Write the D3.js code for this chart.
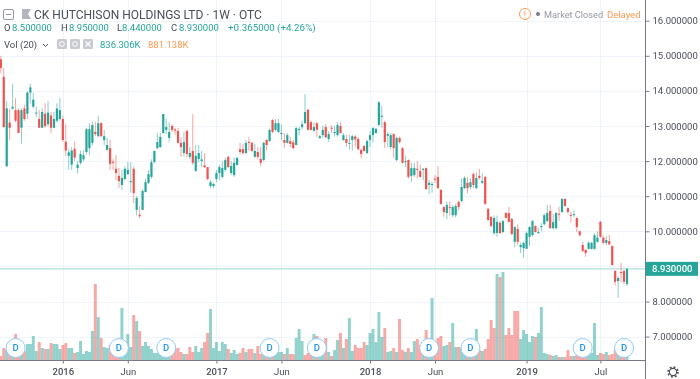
<!DOCTYPE html>
<html>
  <head>
    <title>CK Hutchison Holdings weekly candles</title>
    <script src="https://d3js.org/d3.v7.min.js"></script>
    <style>
      html, body { margin: 0; padding: 0; background: #fff; }
      svg { display: block; filter: blur(0.35px); }
      text { font-family: Roboto, "Open Sans", sans-serif; }
    </style>
  </head>
  <body>
    <div id="chart"></div>
    <script>
      // weekly bars, oldest first
      var opens = [
        14.9,14.4,11.85,13.1,13.5,13.45,13.45,12.95,13.5,13.35,
        13.95,13.55,13.35,13.2,12.95,13.35,13.05,13.3,12.95,13.15,
        13.2,13.2,12.55,12.15,11.9,12.35,11.8,11.95,12.05,12.26,
        12.37,12.52,12.83,12.71,13.08,12.6,12.32,12.37,11.98,11.78,
        11.58,11.32,11.49,11.63,11.4,11.78,10.61,10.47,10.61,11.12,
        11.38,11.55,11.97,12.37,12.4,12.8,12.89,12.66,13.0,12.9,
        12.86,12.52,12.23,12.86,12.12,12.29,11.72,12.06,12.0,11.88,
        11.83,11.29,11.29,11.49,11.66,11.55,11.75,12.12,11.66,11.6,
        11.89,12.34,12.34,12.23,12.55,12.52,12.12,12.26,12.06,12.03,
        12.6,12.57,13.17,12.89,12.83,12.77,12.6,12.52,12.57,12.54,
        12.46,12.89,12.97,13.08,13.46,13.11,12.86,13.08,12.66,12.74,
        12.97,12.63,12.95,12.8,12.74,13.0,12.6,12.63,12.49,12.6,
        12.7,12.63,12.32,12.43,12.23,12.6,12.74,12.8,13.03,13.26,
        13.11,12.72,12.4,12.77,12.03,12.66,12.37,11.97,12.03,11.58,
        11.6,11.78,11.72,11.75,11.8,11.32,11.32,11.5,11.55,11.18,
        10.69,10.52,10.69,10.46,10.46,10.84,10.86,11.23,11.38,11.26,
        11.63,11.23,11.58,11.38,11.55,10.64,10.41,9.95,9.95,10.24,
        9.98,10.52,10.52,10.35,9.7,10.07,9.55,9.52,9.5,9.84,
        9.89,10.15,9.95,10.12,10.2,10.29,10.58,10.09,10.09,10.5,
        10.55,10.92,10.66,10.47,10.46,10.38,10.0,9.61,9.47,9.5,
        9.5,9.5,9.7,10.27,9.82,9.67,9.72,9.58,8.87,8.58,
        8.84,8.87,8.5
      ];
      var highs = [
        15.0,14.65,13.7,13.5,14.2,13.8,13.5,13.5,13.6,14.0,
        14.2,13.95,13.55,13.45,13.5,13.65,13.7,13.4,13.4,13.65,
        13.8,13.3,13.05,12.35,12.4,12.55,12.0,12.3,12.3,12.95,
        13.08,13.12,13.12,13.28,13.12,12.89,12.66,12.6,12.06,12.17,
        11.8,11.75,11.85,11.97,11.97,11.85,11.0,10.72,11.2,11.5,
        11.75,12.05,12.3,12.8,12.8,13.34,13.2,13.11,13.05,12.95,
        12.95,12.68,12.83,12.9,12.4,13.34,12.46,12.46,12.29,12.23,
        11.83,11.46,11.38,11.75,11.9,12.0,12.1,12.15,12.0,12.1,
        12.12,12.52,12.5,12.6,12.68,12.55,12.5,12.4,12.4,12.55,
        12.62,12.92,13.2,13.2,13.2,13.03,12.8,12.8,12.7,12.6,
        12.97,12.97,13.15,13.91,13.5,13.15,13.1,13.12,12.75,13.0,
        13.05,12.85,13.03,13.0,13.11,13.11,12.8,12.75,12.75,12.75,
        12.75,12.68,12.34,12.46,12.6,12.85,12.97,12.95,13.7,13.57,
        13.15,12.83,12.8,12.8,12.7,12.7,12.4,12.15,12.05,11.95,
        11.95,12.0,11.9,11.8,11.82,11.46,11.4,11.6,11.85,11.2,
        10.72,10.85,10.85,10.75,10.78,10.87,11.5,11.57,11.55,11.52,
        11.68,11.68,11.78,11.65,11.57,10.66,10.43,10.45,10.45,10.3,
        10.32,10.55,10.7,10.38,10.15,10.2,9.68,9.7,10.0,10.15,
        10.32,10.17,10.1,10.24,10.5,10.75,10.75,10.5,10.55,10.7,
        10.95,10.95,10.68,10.55,10.6,10.4,10.02,9.7,9.5,9.72,
        9.7,9.95,10.0,10.3,9.88,9.87,9.9,9.6,8.9,8.72,
        9.1,8.9,8.95
      ];
      var lows = [
        14.5,12.95,11.85,12.6,13.45,13.1,12.8,12.5,13.15,13.2,
        13.65,13.5,13.25,12.95,12.95,12.95,13.0,12.8,12.95,13.1,
        13.15,12.55,12.15,11.75,11.75,12.0,11.65,11.9,12.0,12.2,
        12.17,12.45,12.71,12.68,12.68,12.45,12.3,11.75,11.75,11.46,
        11.23,11.18,11.45,11.6,11.1,10.8,10.45,10.38,10.6,11.1,
        11.35,11.5,11.95,12.35,12.37,12.78,12.77,12.54,12.83,12.75,
        12.5,12.12,12.12,12.1,12.05,11.89,11.7,11.98,11.83,11.8,
        11.45,11.23,11.23,11.4,11.45,11.5,11.7,11.8,11.6,11.55,
        11.87,12.2,12.18,12.2,12.3,12.25,12.1,12.05,11.85,12.0,
        12.3,12.55,12.8,12.85,12.8,12.6,12.37,12.5,12.4,12.33,
        12.45,12.74,12.9,13.05,12.87,12.87,12.84,12.68,12.63,12.66,
        12.65,12.55,12.8,12.7,12.7,12.78,12.58,12.4,12.32,12.3,
        12.4,12.3,12.08,12.26,12.2,12.4,12.52,12.78,13.0,12.95,
        12.37,12.4,12.35,12.09,12.0,12.5,11.93,11.83,11.5,11.4,
        11.55,11.5,11.53,11.45,11.18,11.06,11.1,11.38,11.2,10.75,
        10.41,10.35,10.45,10.4,10.4,10.6,10.83,11.2,11.09,11.2,
        11.23,11.2,11.47,11.35,10.75,10.3,10.12,9.89,9.84,9.93,
        9.95,10.36,10.24,9.9,9.55,9.6,9.38,9.24,9.58,9.58,
        9.86,9.96,9.92,10.0,10.17,10.26,10.07,10.05,10.05,10.3,
        10.52,10.7,10.5,10.25,10.4,9.98,9.85,9.4,9.27,9.48,
        9.48,9.48,9.68,9.82,9.62,9.6,9.6,9.02,8.46,8.1,
        8.55,8.5,8.44
      ];
      var closes = [
        14.65,12.97,13.5,12.95,13.55,13.15,12.8,13.45,13.2,13.95,
        14.1,13.75,13.38,12.95,13.4,13.0,13.38,12.95,13.2,13.5,
        13.45,12.6,12.3,12.25,12.3,12.1,11.9,12.2,12.17,12.91,
        12.91,13.03,12.77,13.08,12.71,12.71,12.46,11.92,11.95,11.66,
        11.43,11.52,11.78,11.75,11.43,11.09,10.95,10.43,11.15,11.4,
        11.63,11.97,12.29,12.54,12.69,13.34,12.97,12.83,12.89,12.87,
        12.52,12.4,12.54,12.2,12.23,11.95,12.15,12.23,12.05,11.83,
        11.49,11.4,11.35,11.66,11.83,11.8,12.03,11.83,11.86,11.95,
        12.09,12.26,12.23,12.52,12.52,12.29,12.29,12.12,11.95,12.52,
        12.46,12.89,12.83,13.08,13.08,12.8,12.52,12.74,12.49,12.37,
        12.94,12.92,13.05,13.4,12.89,12.89,12.97,12.89,12.71,12.89,
        12.68,12.77,12.92,12.83,13.03,12.8,12.74,12.52,12.52,12.71,
        12.62,12.34,12.2,12.29,12.57,12.74,12.94,12.92,13.68,13.29,
        12.54,12.77,12.74,12.37,12.66,12.54,11.95,12.0,11.55,11.8,
        11.8,11.75,11.55,11.78,11.2,11.38,11.35,11.47,11.23,10.78,
        10.55,10.75,10.66,10.69,10.72,10.69,11.26,11.52,11.23,11.4,
        11.32,11.52,11.52,11.43,10.78,10.32,10.15,10.38,10.27,9.95,
        10.29,10.38,10.27,9.92,10.12,9.7,9.61,9.67,9.95,10.12,
        10.29,9.98,9.98,10.15,10.46,10.52,10.09,10.26,10.52,10.47,
        10.92,10.72,10.55,10.44,10.49,10.12,9.89,9.44,9.38,9.67,
        9.67,9.89,9.82,9.84,9.67,9.75,9.63,9.04,8.56,8.67,
        8.81,8.56,8.93
      ];
      // hundred thousand shares
      var volumes = [
        8,24,20,24,30,52,32,20,18,32,
        32,48,18,36,24,22,22,34,32,32,
        22,30,34,24,24,14,16,38,12,18,
        16,58,152,86,44,26,24,30,24,20,
        16,104,30,52,26,90,78,58,28,36,
        28,22,14,14,16,20,18,14,16,24,
        24,16,12,12,26,16,28,16,24,36,
        54,102,24,36,18,36,32,22,14,20,
        12,14,24,16,22,22,14,28,12,16,
        16,16,18,18,16,16,12,24,12,12,
        44,62,38,10,14,16,52,48,36,36,
        44,16,8,20,40,54,24,42,84,18,
        30,24,24,36,30,54,62,36,96,46,
        64,16,18,24,16,82,20,16,24,16,
        38,42,30,24,60,30,124,14,44,48,
        28,30,36,74,26,26,24,28,28,28,
        28,62,20,18,22,42,80,64,172,166,
        176,50,64,50,98,98,42,60,52,36,
        48,46,54,106,14,12,10,8,10,6,
        6,6,20,8,8,10,16,16,10,12,
        14,74,10,14,12,16,10,12,20,12,
        10,6,8
      ];
      // weeks whose volume bar is coloured against the candle
      var volumeFlips = [64, 103, 150, 167, 174];
      var dividendWeeks = [5, 40, 56, 91, 107, 145, 159, 197, 211];

      var priceTicks = [7, 8, 9, 10, 11, 12, 13, 14, 15, 16];
      var timeTicks = [21, 43, 73, 95, 125, 147, 178, 203];
      var timeLabels = ["2016", "Jun", "2017", "Jun", "2018", "Jun", "2019", "Jul"];
      var lastPrice = 8.93;

      var width = 700, height = 379;
      var plotRight = 645, plotBottom = 360;
      var up = "#26a69a", down = "#ef5350", gridColor = "#eef4f9", axisColor = "#787b86", textColor = "#4a4e5a";

      var svg = d3.select("#chart").append("svg")
        .attr("width", width)
        .attr("height", height);

      var x = d3.scaleLinear().domain([0, opens.length - 1]).range([0.8, 627]);
      var y = d3.scaleLinear().domain([7, 16]).range([336.6, 20.7]);
      var yVol = d3.scaleLinear().domain([0, 176]).range([plotBottom, 272]);

      // grid
      svg.append("g").selectAll("line").data(priceTicks).enter().append("line")
        .attr("x1", 0).attr("x2", plotRight)
        .attr("y1", function(d) { return Math.round(y(d)) + 0.5; })
        .attr("y2", function(d) { return Math.round(y(d)) + 0.5; })
        .attr("stroke", gridColor);
      svg.append("g").selectAll("line").data(timeTicks).enter().append("line")
        .attr("y1", 0).attr("y2", plotBottom)
        .attr("x1", function(d) { return Math.round(x(d)) + 0.5; })
        .attr("x2", function(d) { return Math.round(x(d)) + 0.5; })
        .attr("stroke", gridColor);

      // volume
      svg.append("g").selectAll("rect").data(volumes).enter().append("rect")
        .attr("x", function(d, i) { return x(i) - 1.48; })
        .attr("width", 2.96)
        .attr("y", function(d) { return yVol(d); })
        .attr("height", function(d) { return plotBottom - yVol(d); })
        .attr("fill", function(d, i) {
          var rising = closes[i] >= opens[i];
          if (volumeFlips.indexOf(i) >= 0) rising = !rising;
          return rising ? up : down;
        })
        .attr("opacity", 0.5);

      // last price line
      svg.append("line")
        .attr("x1", 0).attr("x2", plotRight)
        .attr("y1", y(lastPrice)).attr("y2", y(lastPrice))
        .attr("stroke", up).attr("stroke-opacity", 0.45);

      // candles
      var candles = svg.append("g").selectAll("g").data(opens).enter().append("g")
        .attr("fill", function(d, i) { return closes[i] >= d ? up : down; })
        .attr("stroke", function(d, i) { return closes[i] >= d ? up : down; });
      candles.append("line")
        .attr("x1", function(d, i) { return x(i); })
        .attr("x2", function(d, i) { return x(i); })
        .attr("y1", function(d, i) { return y(highs[i]); })
        .attr("y2", function(d, i) { return y(lows[i]); })
        .attr("stroke-opacity", 0.55);
      candles.append("rect")
        .attr("x", function(d, i) { return x(i) - 1.1; })
        .attr("width", 2.2)
        .attr("y", function(d, i) { return y(Math.max(d, closes[i])); })
        .attr("height", function(d, i) { return Math.max(1, Math.abs(y(d) - y(closes[i]))); })
        .attr("stroke", "none");

      // dividend markers
      var marks = svg.append("g").selectAll("g").data(dividendWeeks).enter().append("g")
        .attr("transform", function(d) { return "translate(" + x(d) + ",348)"; });
      marks.append("circle").attr("r", 9.5).attr("fill", "#fff").attr("stroke", "#90caf9");
      marks.append("text").text("D")
        .attr("text-anchor", "middle").attr("dy", "0.35em")
        .attr("font-size", "9.5px").attr("font-weight", 500).attr("fill", "#2196f3");

      // axes
      var yAxis = svg.append("g")
        .attr("transform", "translate(" + (plotRight + 0.5) + ",0)")
        .call(d3.axisRight(y).tickValues(priceTicks).tickSize(4).tickPadding(3)
          .tickFormat(function(d) { return d.toFixed(6); }));
      yAxis.select(".domain").remove();
      yAxis.selectAll("line").attr("stroke", axisColor);
      yAxis.selectAll("text").attr("font-size", "9.5px").attr("fill", textColor)
        .style("font-family", "Roboto");
      // 9.000000 sits under the last price tag
      yAxis.selectAll("text").filter(function(d) { return d === 9; }).remove();

      var xAxis = svg.append("g")
        .attr("transform", "translate(0," + (plotBottom + 0.5) + ")")
        .call(d3.axisBottom(x).tickValues(timeTicks).tickSize(3).tickPadding(5)
          .tickFormat(function(d, i) { return timeLabels[i]; }));
      xAxis.select(".domain").remove();
      xAxis.selectAll("line").attr("stroke", axisColor);
      xAxis.selectAll("text").attr("font-size", "9.5px").attr("fill", textColor)
        .attr("font-weight", function(d, i) { return i % 2 ? 400 : 500; })
        .style("font-family", "Roboto");

      svg.append("line").attr("x1", plotRight + 0.5).attr("x2", plotRight + 0.5)
        .attr("y1", 0).attr("y2", height).attr("stroke", axisColor);
      svg.append("line").attr("x1", 0).attr("x2", plotRight)
        .attr("y1", plotBottom + 0.5).attr("y2", plotBottom + 0.5).attr("stroke", axisColor);

      // last price tag
      svg.append("rect").attr("x", 646).attr("y", y(lastPrice) - 7).attr("width", 52).attr("height", 14).attr("fill", up);
      svg.append("text").text(lastPrice.toFixed(6))
        .attr("x", 652).attr("y", y(lastPrice)).attr("dy", "0.35em")
        .attr("font-size", "9.5px").attr("font-weight", 500).attr("fill", "#fff");

      // gear
      svg.append("circle").attr("cx", 673).attr("cy", 372).attr("r", 3.6)
        .attr("fill", "none").attr("stroke", textColor).attr("stroke-width", 1.1);
      svg.append("circle").attr("cx", 673).attr("cy", 372).attr("r", 5)
        .attr("fill", "none").attr("stroke", textColor).attr("stroke-width", 1.6)
        .attr("stroke-dasharray", "1.9 2.02");

      // header
      function label(str, px, py, size, color, weight) {
        return svg.append("text").text(str).attr("x", px).attr("y", py)
          .attr("font-size", size + "px").attr("fill", color).attr("font-weight", weight || 400);
      }
      svg.append("rect").attr("x", 3.5).attr("y", 9.5).attr("width", 10).attr("height", 10).attr("rx", 1.5)
        .attr("fill", "#fff").attr("stroke", "#9598a1");
      svg.append("line").attr("x1", 6).attr("x2", 11).attr("y1", 14.5).attr("y2", 14.5).attr("stroke", "#9598a1");
      svg.append("path").attr("d", d3.line()([[22, 9], [31, 9], [28, 14], [31, 19], [22, 19]])).attr("fill", "#b2b5be");
      label("CK HUTCHISON HOLDINGS LTD · 1W · OTC", 34, 18.5, 12, textColor);

      var ohlc = [["O", opens], ["H", highs], ["L", lows], ["C", closes]];
      var ohlcX = [4, 61, 117, 171];
      ohlc.forEach(function(row, i) {
        var last = row[1][row[1].length - 1];
        label(row[0], ohlcX[i], 31, 9.5, textColor);
        label(last.toFixed(6), ohlcX[i] + (i == 2 ? 5 : 8), 31, 9.5, up);
      });
      label("+0.365000 (+4.26%)", 228, 31, 9.8, up);

      label("Vol (20)", 4, 48, 9.5, textColor);
      svg.append("path").attr("d", d3.line()([[43, 44], [45.5, 46.5], [48, 44]])).attr("fill", "none").attr("stroke", textColor);
      svg.selectAll("rect.tool").data([57, 70, 83]).enter().append("rect").attr("class", "tool")
        .attr("x", function(d) { return d; }).attr("y", 39).attr("width", 10).attr("height", 10).attr("rx", 1.5)
        .attr("fill", "#c8cad0");
      svg.selectAll("circle.tool").data([62, 75]).enter().append("circle").attr("class", "tool")
        .attr("cx", function(d) { return d; }).attr("cy", 44).attr("r", 2.4)
        .attr("fill", "none").attr("stroke", "#fff");
      svg.append("path").attr("d", "M85.5 41.5L90.5 46.5M90.5 41.5L85.5 46.5").attr("stroke", "#fff").attr("stroke-width", 1.2);
      label("836.306K", 100, 48, 9.5, up);
      label("881.138K", 148, 48, 9.5, "#ff9850");

      // market status
      svg.append("circle").attr("cx", 525).attr("cy", 14).attr("r", 5.5)
        .attr("fill", "#fff").attr("stroke", "#ff9850");
      svg.append("text").text("!").attr("x", 525).attr("y", 17.5).attr("text-anchor", "middle")
        .attr("font-size", "9px").attr("fill", "#ff9850");
      svg.append("circle").attr("cx", 538).attr("cy", 14).attr("r", 2).attr("fill", "#787b86");
      label("Market Closed", 544, 17.5, 9.2, "#9598a1");
      label("Delayed", 607, 17.5, 9.5, "#ff9850");
    </script>
  </body>
</html>
